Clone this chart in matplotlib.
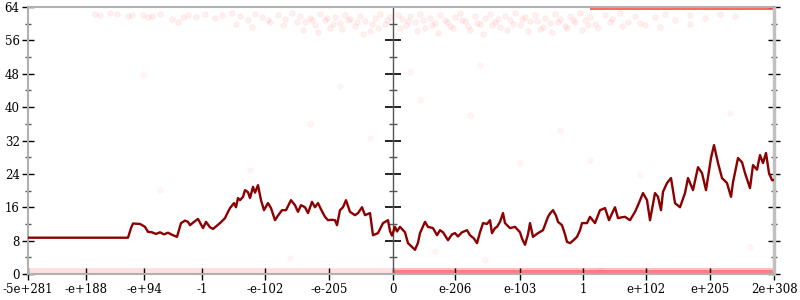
import numpy as np
import matplotlib.pyplot as plt

# -------------------------------
# data (x in sample-position units, y in value units)
# -------------------------------
tick_pos = [28, 86, 144, 202, 265, 329, 393, 455, 520, 583, 646, 710, 774]
tick_labels = ["-5e+281", "-e+188", "-e+94", "-1", "-e-102", "-e-205", "0",
               "e-206", "e-103", "1", "e+102", "e+205", "2e+308"]
center_pos = 393

line_x = [28, 128, 131, 133, 140, 145, 148, 152, 156, 160, 164, 168, 172, 177, 181, 185,
          188, 190, 193, 198, 203, 206, 210, 213, 217, 220, 225, 228, 230, 234, 236, 238,
          240, 243, 245, 248, 250, 253, 255, 258, 261, 264, 268, 271, 275, 278, 282, 286,
          291, 295, 298, 301, 305, 308, 312, 315, 318, 321, 325, 328, 332, 335, 337, 340,
          343, 346, 350, 355, 358, 362, 365, 370, 373, 378, 383, 388, 390, 392, 395, 397,
          400, 405, 408, 412, 415, 418, 420, 425, 428, 433, 437, 440, 443, 448, 452, 455,
          458, 462, 467, 470, 474, 477, 480, 483, 487, 490, 492, 495, 497, 500, 503, 505,
          510, 515, 520, 522, 525, 528, 530, 533, 538, 543, 548, 550, 553, 556, 558, 562,
          565, 567, 570, 573, 577, 580, 582, 587, 590, 595, 600, 605, 609, 612, 615, 618,
          622, 625, 630, 635, 638, 643, 647, 650, 655, 658, 661, 663, 667, 671, 675, 680,
          685, 688, 693, 698, 702, 706, 711, 714, 718, 722, 727, 731, 733, 738, 742, 745,
          750, 753, 757, 760, 763, 766, 769, 772, 774]
line_y = [8.7, 8.7, 11.0, 12.1, 12.0, 11.3, 10.1, 10.0, 9.6, 10.0, 9.5, 9.9, 9.4, 8.9, 12.2, 12.8,
          12.5, 11.7, 12.3, 13.2, 11.0, 12.5, 11.2, 10.8, 11.6, 12.2, 13.4, 14.9, 15.8, 17.0, 16.0, 18.2,
          17.7, 18.5, 20.1, 19.6, 18.2, 20.9, 19.5, 21.3, 17.7, 15.3, 17.0, 15.8, 12.9, 14.0, 15.3, 15.3,
          17.7, 16.5, 14.9, 16.5, 16.0, 14.6, 17.3, 16.0, 17.0, 15.5, 13.7, 12.9, 13.0, 12.9, 11.7, 15.3,
          16.0, 17.7, 14.9, 14.1, 14.6, 16.0, 14.1, 14.6, 9.3, 9.8, 12.2, 12.9, 10.3, 9.2, 11.3, 10.2,
          11.3, 10.0, 7.4, 6.5, 5.8, 7.5, 9.8, 12.5, 11.3, 11.0, 9.3, 10.5, 10.0, 8.1, 9.5, 9.8,
          9.0, 10.0, 10.5, 9.3, 8.5, 7.4, 10.0, 12.2, 12.0, 12.9, 9.8, 11.0, 11.3, 12.5, 14.6, 12.2,
          11.0, 11.3, 10.0, 8.5, 7.0, 9.5, 12.2, 8.9, 9.8, 10.5, 13.7, 14.5, 15.3, 14.0, 12.5, 11.7,
          9.5, 7.7, 7.4, 8.0, 8.9, 10.5, 12.2, 12.2, 13.7, 12.2, 15.3, 15.8, 12.9, 14.5, 16.0, 13.4,
          13.6, 13.7, 12.9, 14.9, 16.5, 19.4, 17.7, 12.9, 19.4, 18.5, 15.3, 19.7, 21.8, 23.0, 17.0, 16.0,
          19.4, 23.0, 20.1, 25.6, 24.2, 20.1, 27.8, 30.9, 26.6, 23.0, 21.8, 18.5, 22.0, 27.8, 26.8, 24.2,
          20.6, 26.1, 25.0, 28.5, 26.6, 29.0, 24.2, 22.5, 22.5]

# faint sample dots near the top (upper layer)
top_x = [95, 100, 110, 117, 128, 132, 143, 148, 152, 160, 172, 178, 183, 188, 196, 205, 215, 222,
         232, 240, 248, 255, 262, 270, 278, 285, 292, 300, 305, 310, 315, 320, 325, 330, 335, 340,
         345, 350, 355, 360, 365, 370, 375, 380, 385, 390, 398, 402, 406, 410, 415, 420, 425, 430,
         435, 440, 445, 450, 455, 460, 465, 470, 475, 480, 485, 490, 495, 500, 505, 510, 515, 520,
         525, 530, 535, 540, 545, 550, 555, 560, 565, 570, 575, 580, 585, 590, 595, 605, 612, 620,
         628, 635, 645, 655, 665, 675, 690, 705, 720, 735]
top_y = [62.3, 62.0, 62.5, 62.3, 61.8, 62.0, 62.0, 61.5, 61.8, 62.3, 61.2, 60.5, 61.7, 62.0, 61.7, 62.3,
         61.4, 62.0, 62.5, 61.8, 60.8, 62.3, 61.6, 60.5, 62.0, 61.2, 62.5, 61.8, 60.5, 61.4, 59.8, 62.3,
         60.8, 59.0, 61.6, 60.2, 62.0, 61.2, 59.5, 61.8, 60.7, 58.3, 61.4, 62.3, 60.0, 61.6, 62.0, 61.2,
         59.8, 61.8, 60.5, 62.3, 59.0, 61.4, 60.2, 62.0, 61.0, 59.5, 61.6, 62.5, 60.7, 58.5, 61.8, 60.0,
         61.4, 62.3, 60.5, 59.3, 61.8, 60.8, 62.5, 59.8, 61.6, 60.7, 62.0, 58.8, 61.4, 60.2, 62.3, 61.2,
         59.5, 61.8, 60.5, 62.5, 61.0, 61.6, 60.0, 62.0, 61.2, 62.5, 60.5, 61.8, 59.8, 61.6, 62.3, 61.0,
         62.0, 61.4, 62.3, 61.8]

# faint sample dots near the top (lower, looser layer)
top2_x = [236, 252, 268, 283, 297, 303, 312, 318, 327, 333, 342, 348, 357, 363, 372, 378, 387,
          400, 408, 417, 423, 432, 438, 447, 453, 462, 468, 477, 483, 492, 498, 507, 513, 522,
          528, 537, 543, 552, 558, 567, 573, 582, 588, 598, 610, 622, 640, 660, 690]
top2_y = [60.0, 59.3, 61.0, 59.6, 60.4, 58.6, 60.9, 58.0, 61.3, 60.0, 58.8, 61.0, 60.3, 57.6, 60.0,
          59.0, 61.0, 59.0, 60.6, 58.2, 61.0, 59.7, 57.8, 60.3, 58.9, 60.8, 59.4, 60.2, 57.5, 59.8,
          61.1, 58.6, 60.0, 61.2, 58.3, 60.6, 59.2, 57.9, 60.4, 59.0, 61.0, 58.5, 59.6, 58.9, 60.3,
          59.5, 60.1, 59.2, 60.0]

# scattered dots in the middle of the panel
mid_x = [143, 160, 250, 290, 310, 340, 370, 410, 420, 435, 470, 480, 485, 520, 560, 590, 600,
         640, 660, 710, 730, 750]
mid_y = [47.8, 20.1, 25.0, 3.8, 36.0, 45.0, 32.5, 48.5, 41.8, 5.5, 38.0, 50.2, 3.4, 26.5, 34.5,
         27.3, 1.0, 23.8, 16.5, 28.5, 38.5, 6.5]

# dense dot bands (start, end, bottom, top, strength)
band_x0 = [28, 393, 393, 590]
band_x1 = [393, 774, 774, 774]
band_lo = [-0.6, -0.6, 0.1, 63.3]
band_hi = [1.5, 1.5, 0.9, 64.2]
band_alpha = [0.12, 0.25, 0.35, 0.6]

y_major = np.arange(0, 65, 8)
y_minor = np.arange(4, 64, 8)

# -------------------------------
# plot
# -------------------------------
plt.rcParams["font.family"] = "DejaVu Serif"

fig = plt.figure(figsize=(8, 3), dpi=100)
ax = fig.add_axes([28 / 800, 26 / 300, 746 / 800, 267 / 300])

for x0, x1, lo, hi, a in zip(band_x0, band_x1, band_lo, band_hi, band_alpha):
    ax.fill_between([x0, x1], lo, hi, color="red", alpha=a, lw=0, zorder=1)

ax.scatter(top_x, top_y, s=16, color="red", alpha=0.06, lw=0.6, zorder=1)
ax.scatter(top2_x, top2_y, s=16, color="red", alpha=0.06, lw=0.6, zorder=1)
ax.scatter(mid_x, mid_y, s=16, color="red", alpha=0.04, lw=0.6, zorder=1)

ax.plot(line_x, line_y, color="#8b0000", lw=1.7, zorder=3)

ax.set_xlim(28, 774)
ax.set_ylim(0, 64)

for side in ["left", "top", "bottom"]:
    ax.spines[side].set_color("#b0b0b0")
    ax.spines[side].set_linewidth(1.5)
ax.spines["right"].set_color("#c0c0c0")
ax.spines["right"].set_linewidth(2.5)

ax.set_yticks(y_major)
ax.set_yticks(y_minor, minor=True)
ax.set_xticks(tick_pos)
ax.set_xticklabels(tick_labels)
ax.tick_params(axis="y", which="major", direction="inout", length=8, width=1,
               color="black", labelsize=8.5, pad=2, right=True)
ax.tick_params(axis="y", which="minor", direction="inout", length=5, width=1,
               color="#555555", right=True)
ax.tick_params(axis="x", which="major", direction="inout", length=9, width=1,
               color="black", labelsize=8.5, pad=2)

# the zero axis in the middle
ax.axvline(center_pos, color="#555555", lw=1, zorder=2)
mid = ax.secondary_yaxis((center_pos - 28) / 746)
mid.spines["left"].set_visible(False)
mid.set_yticks(y_major)
mid.set_yticks(y_minor, minor=True)
mid.tick_params(which="major", direction="inout", length=12, width=1.2, color="black",
                labelleft=False)
mid.tick_params(which="minor", direction="inout", length=6, width=1, color="#555555")

fig.savefig("out.png", dpi=100, facecolor="white")
